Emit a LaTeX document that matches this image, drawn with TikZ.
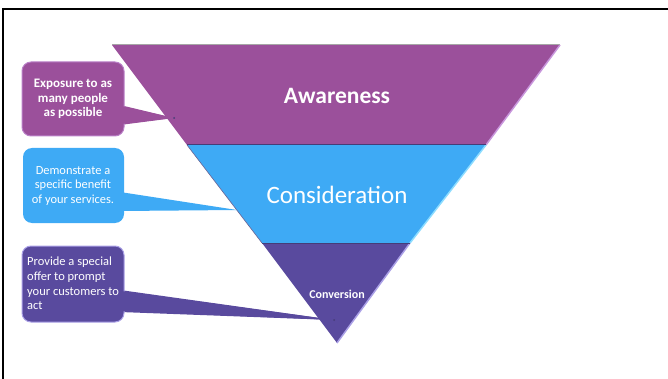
\documentclass[tikz,border=0pt]{standalone}
\usepackage{fontspec}
\setmainfont{Carlito}
\definecolor{aw}{RGB}{155,80,155}
\definecolor{awedge}{RGB}{200,150,220}
\definecolor{co}{RGB}{62,170,245}
\definecolor{coedge}{RGB}{140,220,255}
\definecolor{cv}{RGB}{89,74,158}
\definecolor{cvedge}{RGB}{170,160,230}
\definecolor{sep}{RGB}{70,60,120}
\begin{document}
\begin{tikzpicture}[x=1pt,y=-1pt,
  lbl/.style={text=white, inner sep=0pt, align=center},
  calltext/.style={text=white, inner sep=0pt, font=\fontsize{12.5}{14.7}\selectfont}]
\useasboundingbox (0,0) rectangle (668,379);
\draw[line width=2pt] (3,400) -- (3,9) -- (700,9);
% funnel coordinates
\coordinate (tl) at (112,45);
\coordinate (tr) at (560,45);
\coordinate (ml) at (187,145);
\coordinate (mr) at (486,145);
\coordinate (bl) at (262,243);
\coordinate (br) at (410,243);
\coordinate (apex) at (337,343);
\fill[aw] (tl) -- (tr) -- (mr) -- (ml) -- cycle;
\fill[co] (ml) -- (mr) -- (br) -- (bl) -- cycle;
\fill[cv] (bl) -- (br) -- (apex) -- cycle;
\draw[gray!70, line width=1pt] (tl) -- (tr);
\draw[awedge, line width=1.5pt] (tr) -- (mr);
\draw[coedge, line width=1.5pt] (mr) -- (br);
\draw[cvedge, line width=1.5pt] (br) -- (apex);
\draw[sep!80, line width=0.6pt] (ml) -- (bl);
\draw[sep, line width=1pt] (ml) -- (mr);
\draw[sep, line width=1pt] (bl) -- (br);
\node[lbl, font=\bfseries\fontsize{23.5}{28}\selectfont] (awareness) at (337,96) {Awareness};
\node[lbl, font=\fontsize{25}{30}\selectfont] (consideration) at (337,195) {Consideration};
\node[lbl, font=\bfseries\fontsize{12}{14}\selectfont] (conversion) at (337,294) {Conversion};
% callout 1
\coordinate (p1) at (174,118);
\fill[aw] (120,105) -- (p1) -- (120,125) -- cycle;
\draw[awedge!70!aw, line width=1pt, fill=aw, rounded corners=9pt] (22,62) rectangle (124,136);
\fill[aw] (121,106) -- (p1) -- (121,124) -- cycle;
\fill[sep] (p1) circle (1pt);
\node[lbl, font=\bfseries\fontsize{13}{14.6}\selectfont] (exposure) at (73,99) {Exposure to as\\many people\\as possible};
% callout 2
\coordinate (p2) at (237,210);
\fill[co, rounded corners=9pt] (23,148) rectangle (124,223);
\fill[co] (120,192) -- (p2) -- (120,211) -- cycle;
\node[lbl, font=\fontsize{12.4}{14.7}\selectfont] (demo) at (73,186) {Demonstrate a\\specific benefit\\of your services.};
% callout 3
\coordinate (p3) at (334,320);
\fill[cv] (120,290) -- (p3) -- (120,312) -- cycle;
\draw[cvedge, line width=1pt, fill=cv, rounded corners=9pt] (22,246) rectangle (124,322);
\fill[cv] (121,291) -- (p3) -- (121,311) -- cycle;
\fill[sep] (p3) circle (1pt);
\node[calltext, align=left, anchor=west] (offer) at (27,283.5) {Provide a special\\offer to prompt\\your customers to\\act};
\end{tikzpicture}
\end{document}
